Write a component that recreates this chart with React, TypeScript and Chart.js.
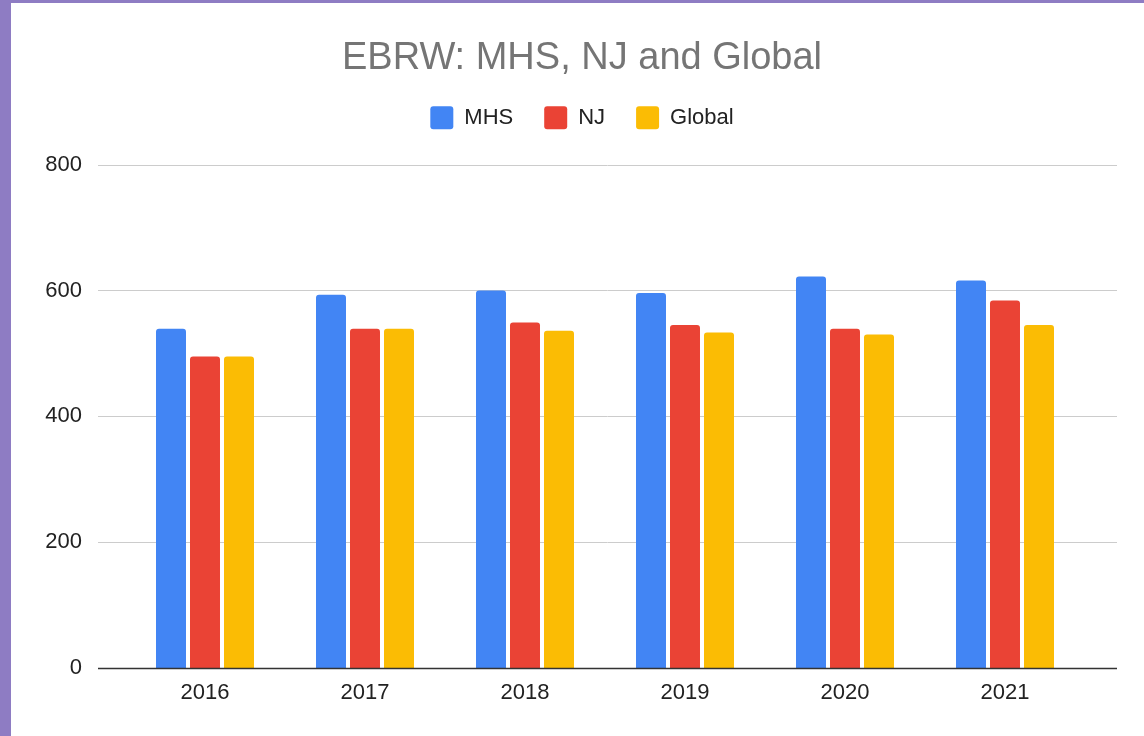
import React, { useEffect, useRef } from "react";
import { Chart, registerables } from "chart.js";

Chart.register(...registerables);

const years = ["2016", "2017", "2018", "2019", "2020", "2021"];
const mhsValues = [539, 593, 600, 596, 622, 616];
const njValues = [495, 539, 549, 545, 539, 584];
const globalValues = [495, 539, 536, 533, 530, 545];
const seriesNames = ["MHS", "NJ", "Global"];
const seriesColors = ["#4285f4", "#ea4335", "#fbbc04"];
const chartTitle = "EBRW: MHS, NJ and Global";

const FONT = "Arial, 'Liberation Sans', sans-serif";

const gridPlugin = {
  id: "extGrid",
  beforeDatasetsDraw(chart: any) {
    const { ctx, chartArea, scales } = chart;
    const y = scales.y;
    ctx.save();
    ctx.lineWidth = 1;
    ctx.strokeStyle = "#cccccc";
    y.ticks.forEach((t: any) => {
      if (t.value === 0) return;
      const py = Math.round(y.getPixelForValue(t.value)) + 0.5;
      ctx.beginPath();
      ctx.moveTo(chartArea.left - 27, py);
      ctx.lineTo(chartArea.right + 32, py);
      ctx.stroke();
    });
    ctx.restore();
  },
  afterDatasetsDraw(chart: any) {
    const { ctx, chartArea, scales } = chart;
    const y = scales.y;
    const py = Math.round(y.getPixelForValue(0)) + 0.5;
    ctx.save();
    ctx.lineWidth = 1.5;
    ctx.strokeStyle = "#333333";
    ctx.beginPath();
    ctx.moveTo(chartArea.left - 27, py);
    ctx.lineTo(chartArea.right + 32, py);
    ctx.stroke();
    ctx.restore();
  },
};

function ChartBox() {
  const ref = useRef<HTMLCanvasElement | null>(null);
  useEffect(() => {
    if (!ref.current) return;
    const values = [mhsValues, njValues, globalValues];
    const chart = new Chart(ref.current, {
      type: "bar",
      data: {
        labels: years,
        datasets: seriesNames.map((name, i) => ({
          label: name,
          data: values[i],
          backgroundColor: seriesColors[i],
          borderRadius: 3,
          categoryPercentage: 0.6375,
          barPercentage: 0.882,
        })),
      },
      options: {
        responsive: false,
        animation: false,
        devicePixelRatio: 1,
        layout: { padding: { left: 9, right: 0, top: 0, bottom: 0 } },
        plugins: {
          title: {
            display: true,
            text: chartTitle,
            color: "#757575",
            font: { family: FONT, size: 38, weight: "normal", lineHeight: 0.9 },
            padding: { top: 38, bottom: 0 },
          },
          legend: {
            display: true,
            position: "top",
            labels: {
              boxWidth: 23,
              boxHeight: 23,
              padding: 31,
              color: "#222222",
              font: { family: FONT, size: 22 },
              useBorderRadius: true,
              borderRadius: 3,
            },
          },
          tooltip: { enabled: false },
        },
        scales: {
          x: {
            grid: { display: false, drawTicks: false },
            border: { display: false },
            ticks: {
              color: "#222222",
              font: { family: FONT, size: 22 },
              padding: 12,
            },
            afterFit: (s: any) => {
              s.height = 68;
            },
          },
          xTopSpacer: {
            type: "category",
            position: "top",
            display: true,
            grid: { display: false, drawTicks: false },
            border: { display: false },
            ticks: { display: false },
            afterFit: (s: any) => {
              s.height = 25.4;
            },
          },
          y: {
            min: 0,
            max: 800,
            ticks: {
              stepSize: 200,
              color: "#222222",
              font: { family: FONT, size: 22 },
              padding: 43,
            },
            grid: { display: false, drawTicks: false },
            border: { display: false },
            afterFit: (s: any) => {
              s.width = 105;
            },
          },
          y2: {
            position: "right",
            display: true,
            grid: { display: false, drawTicks: false },
            border: { display: false },
            ticks: { display: false },
            afterFit: (s: any) => {
              s.width = 59;
            },
          },
        },
      },
      plugins: [gridPlugin],
    } as any);
    return () => chart.destroy();
  }, []);
  return <canvas ref={ref} width={1133} height={733} style={{ display: "block" }} />;
}

export default function App() {
  return (
    <div
      style={{
        position: "absolute",
        left: 0,
        top: 0,
        width: 1144,
        height: 736,
        background: "#8e7cc3",
        overflow: "hidden",
      }}
    >
      <div
        style={{
          position: "absolute",
          left: 11,
          top: 3,
          width: 1133,
          height: 733,
          background: "#ffffff",
        }}
      >
        <ChartBox />
      </div>
    </div>
  );
}
